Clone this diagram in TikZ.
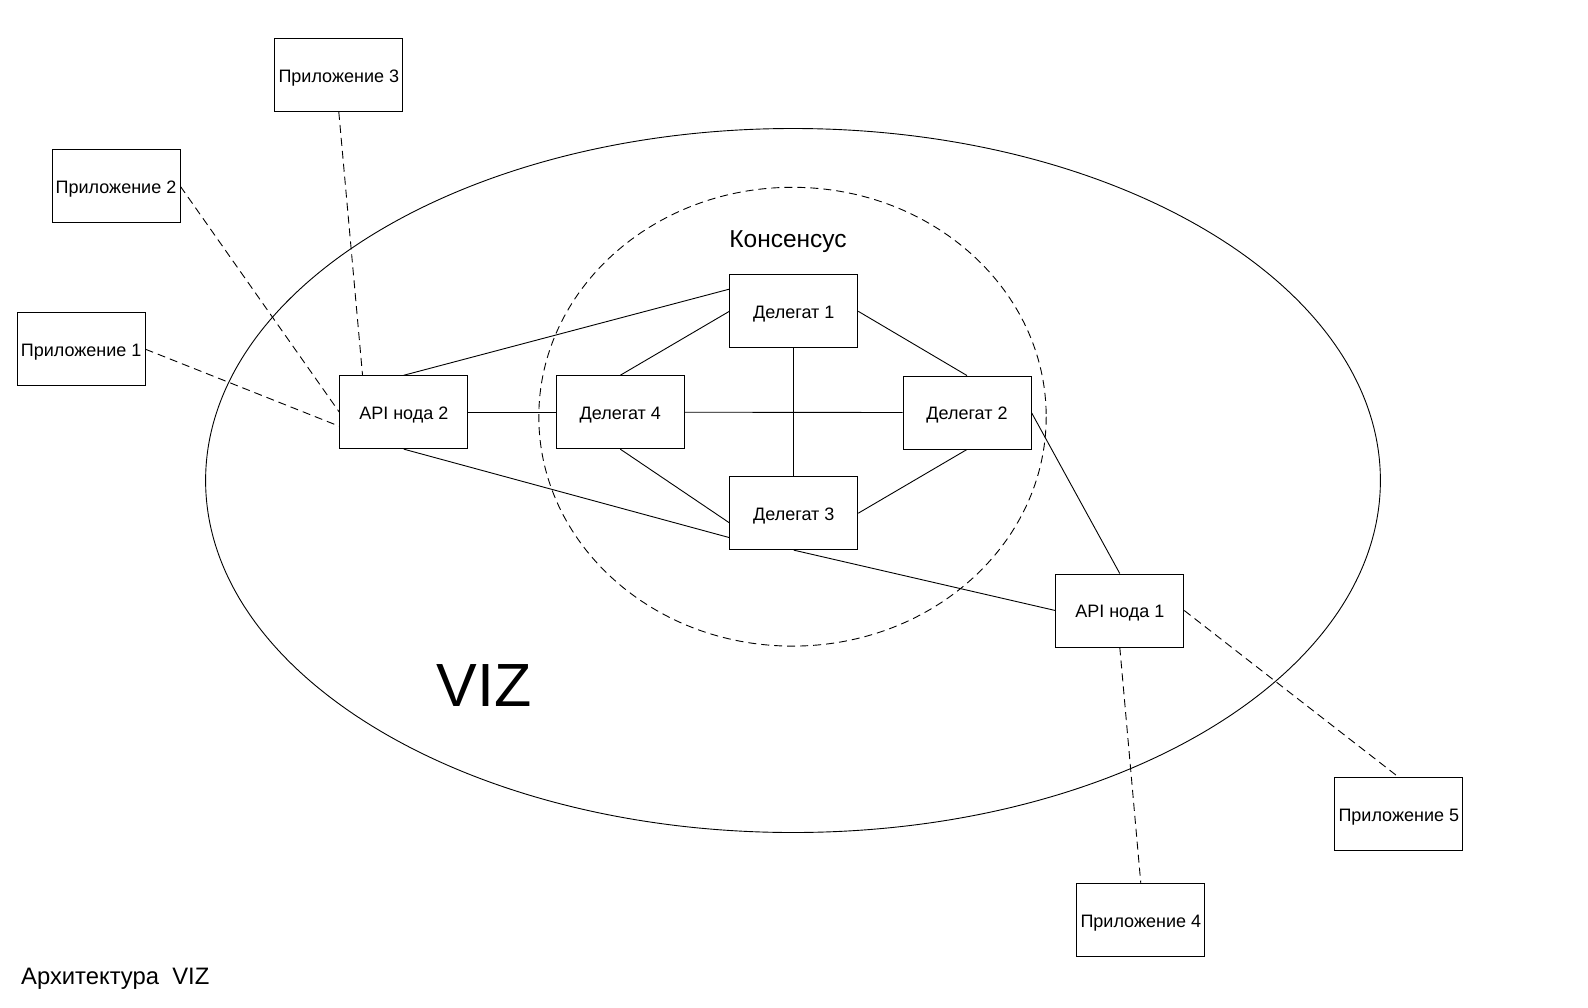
\documentclass[tikz,border=0pt]{standalone}
\usepackage{fontspec}
\setmainfont{Liberation Sans}
\usetikzlibrary{calc}
\begin{document}
\begin{tikzpicture}[x=1pt,y=-1pt,
  box/.style={draw,line width=0.9pt,minimum width=128pt,minimum height=73pt,inner sep=0pt,
    text height=14pt,text depth=0pt,font=\fontsize{18}{22}\selectfont},
  link/.style={line width=0.9pt},
  dlink/.style={line width=0.9pt,dash pattern=on 8pt off 5pt}]
\useasboundingbox (0,0) rectangle (1588,1007);
\fill[white] (0,0) rectangle (1588,1007);
% big ellipse and consensus ellipse
\draw[line width=0.9pt] (793,480.5) ellipse [x radius=587.4, y radius=352];
\draw[dlink] (792.5,416.7) ellipse [x radius=253.7, y radius=229.4];
% nodes
\node[box] (app1) at (81.2,349.3) {Приложение 1};
\node[box] (app2) at (116,186.4) {Приложение 2};
\node[box] (app3) at (338.8,75) {Приложение 3};
\node[box] (api2) at (403.8,412.2) {API нода 2};
\node[box] (d4) at (620.3,412.2) {Делегат 4};
\node[box] (d1) at (793.8,311.3) {Делегат 1};
\node[box] (d2) at (967,412.5) {Делегат 2};
\node[box] (d3) at (793.8,513.2) {Делегат 3};
\node[box] (api1) at (1119.8,610.5) {API нода 1};
\node[box] (app5) at (1398.8,814.2) {Приложение 5};
\node[box] (app4) at (1140.8,920.2) {Приложение 4};
% labels
\node[font=\fontsize{24.5}{28}\selectfont] (cons) at (788,242) {Консенсус};
\node[font=\fontsize{61}{66}\selectfont] (viz) at (484,686) {VIZ};
\node[font=\fontsize{23.8}{28}\selectfont,anchor=west,inner sep=0pt] (title) at (21,979) {Архитектура\ \ VIZ};
% solid links
\draw[link] (api2.north) -- ($(d1.north west)!0.2!(d1.south west)$);
\draw[link] (api2.east) -- (d4.west);
\draw[link] (api2.south) -- ($(d3.north west)!0.83!(d3.south west)$);
\draw[link] (d4.north) -- (d1.west);
\draw[link] (d4.east) -- (d2.west);
\draw[link] (d4.south) -- ($(d3.north west)!0.63!(d3.south west)$);
\draw[link] (d1.south) -- (d3.north);
\draw[link] (d1.east) -- (d2.north);
\draw[link] (d2.south) -- (d3.east);
\draw[link] (d2.east) -- (api1.north);
\draw[link] (d3.south) -- (api1.west);
% dashed links
\draw[dlink] (app1.east) -- ($(api2.north west)!0.69!(api2.south west)$);
\draw[dlink] (app2.east) -- (api2.west);
\draw[dlink] (app3.south) -- ($(api2.north west)!0.18!(api2.north east)$);
\draw[dlink] (api1.east) -- (app5.north);
\draw[dlink] (api1.south) -- (app4.north);
\end{tikzpicture}
\end{document}
